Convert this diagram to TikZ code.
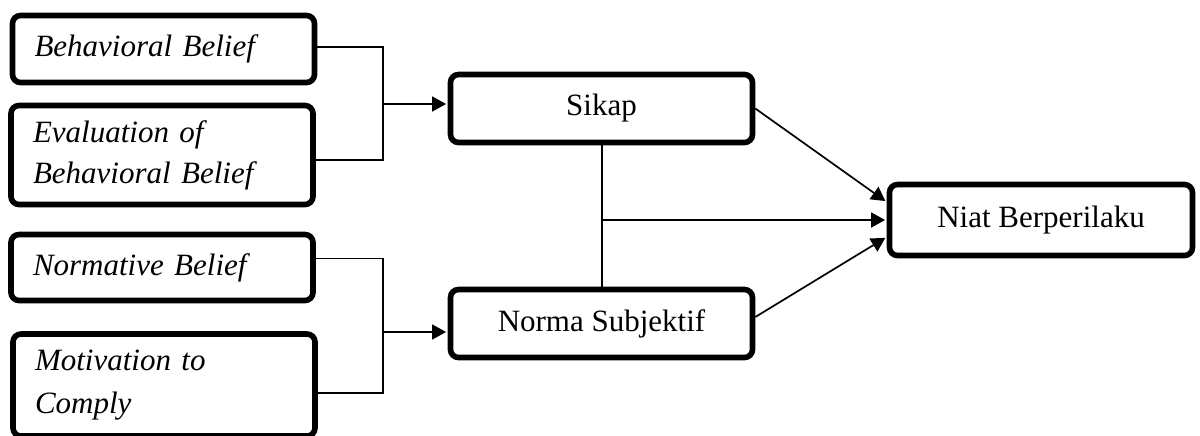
\documentclass[tikz,border=0pt]{standalone}
\usepackage{fontspec}
\setmainfont{Liberation Serif}
\usetikzlibrary{arrows.meta,calc}
\begin{document}
\begin{tikzpicture}[x=0.5pt,y=-0.5pt,
  box/.style={draw,line width=2.8pt,rounded corners=4pt,minimum width=151pt,inner sep=0pt,
    font=\fontsize{15.5}{20}\selectfont},
  lbox/.style={box,text width=129pt,inner xsep=11pt,align=left,font=\itshape\fontsize{15.5}{20.5}\selectfont},
  conn/.style={line width=0.85pt},
  arr/.style={conn,-{Triangle[length=7pt,width=7.5pt]},shorten >=0.8pt}]
\useasboundingbox (0,0) rectangle (1200,435);
\node[lbox,minimum height=33.5pt] (BB) at (163.5,49) {Behavioral Belief};
\node[lbox,minimum height=49.5pt] (EBB) at (162,155) {Evaluation of\\Behavioral Belief};
\node[lbox,minimum height=33pt] (NB) at (162,267.5) {Normative Belief};
\node[lbox,minimum height=51pt,font=\itshape\fontsize{15.5}{21.5}\selectfont] (MC) at (164,385) {Motivation to\\Comply};
\node[box,minimum height=34pt] (SK) at (601.5,108.5) {Sikap};
\node[box,minimum height=34pt] (NS) at (601.5,323.5) {Norma Subjektif};
\node[box,minimum height=35.5pt,minimum width=151.5pt] (NI) at (1041,220) {Niat Berperilaku};
\coordinate (j1) at (383,104);
\coordinate (j2) at (383,332);
\coordinate (j3) at (602,220);
\draw[conn] ([yshift=1pt]BB.east) -| (j1);
\draw[conn] ([yshift=-2.5pt]EBB.east) -| (j1);
\draw[arr] (j1) -- (SK.west |- j1);
\draw[conn] ([yshift=4.5pt]NB.east) -| (j2);
\draw[conn] ([yshift=-4pt]MC.east) -| (j2);
\draw[arr] (j2) -- (NS.west |- j2);
\draw[conn] (SK.south -| j3) -- (NS.north -| j3);
\draw[arr] (j3) -- (NI.west |- j3);
\draw[arr] (SK.east) -- ([yshift=9pt]NI.west);
\draw[arr] ([yshift=3.25pt]NS.east) -- ([yshift=-8.5pt]NI.west);
\end{tikzpicture}
\end{document}
